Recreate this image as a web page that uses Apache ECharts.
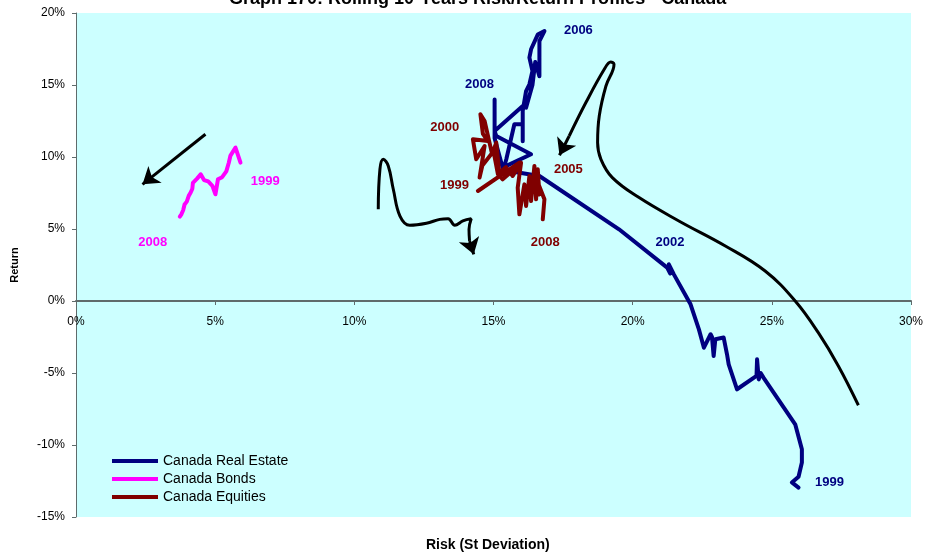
<!DOCTYPE html>
<html><head><meta charset="utf-8">
<script src="https://cdn.jsdelivr.net/npm/echarts@6/dist/echarts.min.js"></script>
<style>html,body{margin:0;padding:0;background:#fff}#c{width:926px;height:556px}</style>
</head><body><div id="c"></div>
<script>
// ---- data ----
const titleText = 'Graph 170: Rolling 10-Years Risk/Return Profiles - Canada';
const xAxisTitle = 'Risk (St Deviation)';
const yAxisTitle = 'Return';
const xTicks = [0, 5, 10, 15, 20, 25, 30];
const yTicks = [-15, -10, -5, 0, 5, 10, 15, 20];
const seriesNames = ['Canada Real Estate', 'Canada Bonds', 'Canada Equities'];

// [risk %, return %], rolling windows 1999 -> 2008
const realEstate = [
  [25.96,-12.96],[25.72,-12.6],[25.96,-12.2],[26.08,-11.22],[26.08,-10.3],[25.84,-8.56],
  [24.7,-5.32],[24.6,-5.0],[24.53,-5.44],[24.47,-4.05],[24.45,-5.2],[23.75,-6.13],
  [23.45,-4.4],[23.39,-3.7],[23.27,-2.54],[22.97,-2.66],[22.91,-3.82],[22.85,-2.5],
  [22.8,-2.31],[22.56,-3.24],[22.38,-1.97],[22.08,-0.23],[21.48,1.85],[21.3,2.55],
  [21.35,1.9],[21.24,2.32],[19.51,4.98],[16.65,8.68],[15.35,9.1],[15.46,9.84],
  [15.75,12.27],[16.05,12.27],[16.05,11.1],[16.05,13.2],[16.17,14.58],[16.29,15.05],
  [16.4,15.97],[16.29,16.9],[16.35,17.48],[16.59,18.5],[16.83,18.75],[16.65,18.05],
  [16.65,15.6],[16.5,16.6],[16.4,15.0],[16.17,13.43],[16.05,13.54],[15.04,11.8],
  [15.1,11.46],[16.35,10.19],[15.33,9.26],[15.04,11.3],[15.04,14.0]
];
const bonds = [
  [5.91,9.61],[5.73,10.65],[5.55,10.1],[5.49,9.6],[5.4,9.0],[5.25,8.6],[5.1,8.45],
  [5.01,7.41],[4.9,8.0],[4.75,8.3],[4.6,8.4],[4.48,8.8],[4.35,8.5],[4.2,8.2],
  [4.18,7.8],[4.12,7.53],[4.05,7.3],[3.98,6.9],[3.9,6.7],[3.85,6.3],[3.78,6.0],[3.73,5.86]
];
const equities = [
  [14.44,7.64],[15.93,9.61],[15.6,8.9],[15.33,8.45],[15.22,8.68],[15.1,11.0],[14.95,10.2],
  [14.68,12.5],[14.53,12.97],[14.62,11.6],[14.8,11.11],[14.26,11.23],[14.38,9.84],
  [14.68,10.76],[14.5,8.57],[14.6,9.4],[15.0,10.4],[15.16,8.8],[15.45,9.3],[15.69,8.68],
  [15.99,9.61],[15.87,7.87],[15.93,6.02],[16.11,8.1],[16.17,6.6],[16.29,8.68],[16.35,6.94],
  [16.47,9.38],[16.53,7.06],[16.59,9.15],[16.65,7.4],[16.6,8.2],[16.83,7.06],[16.77,5.67]
];

// year labels [x, y, text]
const realEstateYears = [[18.05,18.8,'2006'],[14.5,15.05,'2008'],[21.34,4.08,'2002'],[27.07,-12.6,'1999']];
const equityYears = [[13.25,12.06,'2000'],[13.6,8.03,'1999'],[17.69,9.15,'2005'],[16.86,4.08,'2008']];
const bondYears = [[6.8,8.31,'1999'],[2.76,4.08,'2008']];

// hand-drawn annotation arrows
const arrowStraight = [[4.65,11.58],[2.39,8.1]];
const arrowWavy = [
  [10.86,6.37],[10.92,9.15],[11.04,9.84],[11.22,9.38],[11.4,7.76],[11.64,5.9],[11.99,5.26],
  [12.59,5.4],[13.07,5.67],[13.37,5.72],[13.61,5.26],[13.9,5.56],[14.2,5.72],[14.12,4.98],[14.14,4.17]
];
const arrowWavyTip = [[14.14,4.17],[14.29,3.24]];
const arrowCurve = [
  [28.11,-7.24],[27.39,-4.51],[26.67,-2.2],[25.84,0],[24.76,2.08],[23.33,3.82],[21.66,5.56],
  [20.23,7.18],[19.27,8.57],[18.86,9.84],[18.74,11.0],[18.8,12.85],[19.04,14.93],[19.33,16.44],
  [19.21,16.6],[18.98,16.09],[18.32,13.78],[17.72,11.46]
];
const arrowCurveTip = [[17.72,11.46],[17.37,10.12]];

const colors = ['#000080', '#FF00FF', '#800000'];
const font = '"Liberation Sans", Arial, sans-serif';

const chart = echarts.init(document.getElementById('c'), null, {renderer: 'canvas'});

function yearSeries(data, color) {
  return {
    type: 'scatter', data: data, symbolSize: 1, silent: true, z: 5,
    itemStyle: {color: 'rgba(0,0,0,0)'},
    label: {show: true, position: 'inside', formatter: p => p.value[2], color: color,
            textBorderWidth: 0, textShadowBlur: 0, opacity: 1,
            fontFamily: font, fontWeight: 'bold', fontSize: 13}
  };
}
function curve(data) {
  return {type: 'line', data: data, smooth: 0.4, symbol: 'none', silent: true, z: 6,
          lineStyle: {color: '#000', width: 3}};
}
function tip(coords) {
  return {type: 'lines', coordinateSystem: 'cartesian2d', silent: true, z: 6,
          symbol: ['none', 'arrow'], symbolSize: 16,
          lineStyle: {color: '#000', width: 3, opacity: 1},
          data: [{coords: coords}]};
}
function mainSeries(name, data, color) {
  return {name: name, type: 'line', data: data, symbol: 'none', z: 3,
          lineStyle: {color: color, width: 4, cap: 'round', join: 'round'},
          itemStyle: {color: color}};
}

chart.setOption({
  animation: false,
  backgroundColor: '#fff',
  title: {text: titleText, left: 229, top: -10, padding: 0,
          textStyle: {fontFamily: font, fontWeight: 'bold', fontSize: 18, color: '#000'}},
  grid: {left: 76, right: 14, top: 13, bottom: 39, show: true,
         backgroundColor: '#CCFFFF', borderWidth: 0},
  legend: {data: seriesNames, orient: 'vertical', left: 112, top: 454, itemGap: 4,
           icon: 'rect', itemWidth: 46, itemHeight: 4, padding: 0,
           textStyle: {fontFamily: font, fontSize: 14, color: '#000'}},
  xAxis: {type: 'value', min: 0, max: 30, interval: 5, position: 'bottom', offset: -216,
          axisLine: {onZero: false, lineStyle: {color: '#5f6b6b', width: 2}},
          axisTick: {show: true, length: 4, inside: false, lineStyle: {color: '#5f6b6b'}},
          axisLabel: {formatter: '{value}%', fontFamily: font, fontSize: 12, color: '#000', margin: 15},
          splitLine: {show: false}},
  yAxis: {type: 'value', min: -15, max: 20, interval: 5,
          name: yAxisTitle, nameLocation: 'middle', nameGap: 56, nameRotate: 90,
          nameTextStyle: {fontFamily: font, fontWeight: 'bold', fontSize: 11, color: '#000'},
          axisLine: {show: true, lineStyle: {color: '#5f6b6b', width: 1}},
          axisTick: {show: true, length: 4, lineStyle: {color: '#5f6b6b'}},
          axisLabel: {formatter: '{value}%', fontFamily: font, fontSize: 12, color: '#000', margin: 11},
          splitLine: {show: false}},
  graphic: [{type: 'text', left: 426, top: 538,
             style: {text: xAxisTitle, font: 'bold 14px ' + font, fill: '#000'}}],
  series: [
    mainSeries(seriesNames[0], realEstate, colors[0]),
    mainSeries(seriesNames[1], bonds, colors[1]),
    mainSeries(seriesNames[2], equities, colors[2]),
    yearSeries(realEstateYears, colors[0]),
    yearSeries(equityYears, colors[2]),
    yearSeries(bondYears, colors[1]),
    tip(arrowStraight),
    curve(arrowWavy), tip(arrowWavyTip),
    curve(arrowCurve), tip(arrowCurveTip)
  ]
});
</script></body></html>
